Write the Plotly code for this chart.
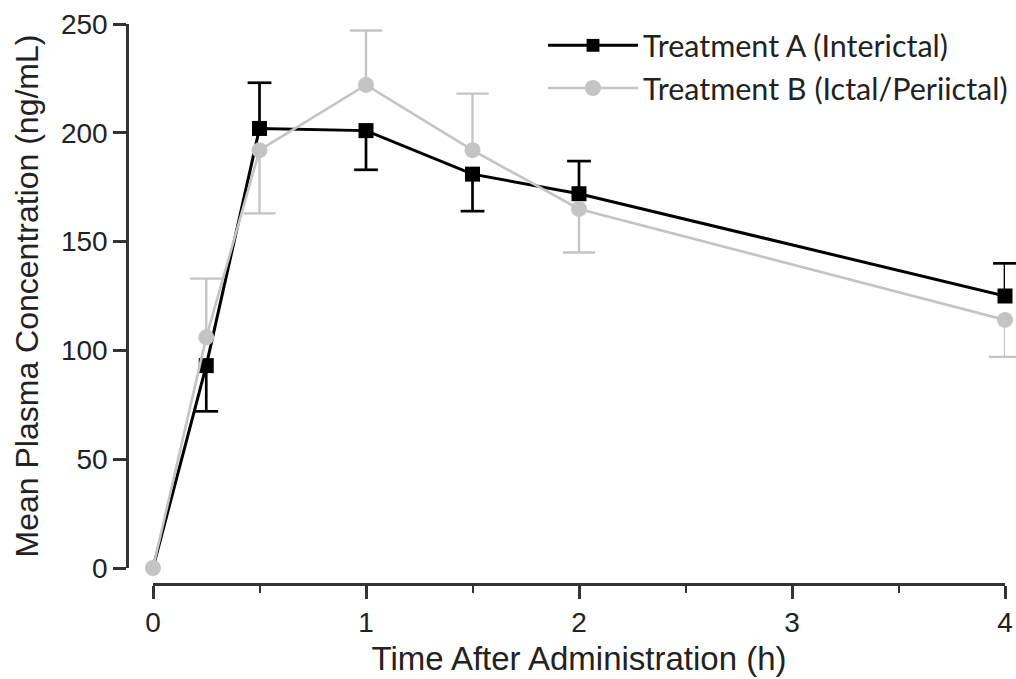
import plotly.graph_objects as go

# ---- data ----
times = [0, 0.25, 0.5, 1, 1.5, 2, 4]
a_mean = [0, 93, 202, 201, 181, 172, 125]
a_err_up = [0, 0, 21, 0, 0, 15, 15]
a_err_down = [0, 21, 0, 18, 17, 0, 0]
b_mean = [0, 106, 192, 222, 192, 165, 114]
b_err_up = [0, 27, 0, 25, 26, 0, 0]
b_err_down = [0, 0, 29, 0, 0, 20, 17]
name_a = "Treatment A (Interictal)"
name_b = "Treatment B (Ictal/Periictal)"
x_ticks = [0, 1, 2, 3, 4]
y_ticks = [0, 50, 100, 150, 200, 250]

COL_A = "#000000"
COL_B = "#c4c4c4"

W, H = 1016, 679
fig = go.Figure()


def cap_points(mean, up, down):
    xs, ys = [], []
    for t, m, u, d in zip(times, mean, up, down):
        if u > 0:
            xs.append(t); ys.append(m + u)
        if d > 0:
            xs.append(t); ys.append(m - d)
    return xs, ys


def add_series(name, mean, up, down, color, symbol, msize, lw, capw, hide_first):
    sizes = [0 if (hide_first and t == 0) else msize for t in times]
    # error bar stems (no caps) underneath
    fig.add_trace(go.Scatter(
        x=times, y=mean, mode="markers", showlegend=False, hoverinfo="skip",
        marker=dict(size=1, color="rgba(0,0,0,0)"),
        error_y=dict(type="data", symmetric=False, array=up, arrayminus=down,
                     color=color, thickness=lw * 0.9, width=0),
        cliponaxis=False,
    ))
    cx, cy = cap_points(mean, up, down)
    fig.add_trace(go.Scatter(
        x=cx, y=cy, mode="markers", showlegend=False, hoverinfo="skip",
        marker=dict(symbol="line-ew", size=capw,
                    line=dict(color=color, width=lw * 0.9)),
        cliponaxis=False,
    ))
    fig.add_trace(go.Scatter(
        x=times, y=mean, mode="lines+markers", name=name,
        line=dict(color=color, width=lw),
        marker=dict(symbol=symbol, size=sizes, color=color, opacity=1,
                    line=dict(width=0)),
        cliponaxis=False,
    ))


add_series(name_a, a_mean, a_err_up, a_err_down, COL_A, "square", 15, 3, 17, True)
add_series(name_b, b_mean, b_err_up, b_err_down, COL_B, "circle", 16, 2.6, 23, False)

tick_font = dict(family="Liberation Sans, Arial, sans-serif", size=28, color="#222222")
xtitle_font = dict(family="Liberation Sans, Arial, sans-serif", size=33, color="#222222")
ytitle_font = dict(family="Liberation Sans, Arial, sans-serif", size=32, color="#222222")

fig.update_layout(
    width=W, height=H,
    margin=dict(l=0, r=0, t=0, b=0),
    paper_bgcolor="white", plot_bgcolor="white",
    showlegend=True,
    legend=dict(
        x=543 / W, y=(H - 19) / H, xanchor="left", yanchor="top",
        font=dict(family="Lato, Open Sans, sans-serif", size=30.5, color="#222222"),
        bgcolor="rgba(0,0,0,0)", tracegroupgap=0, itemwidth=90,
    ),
    xaxis=dict(
        domain=[153 / W, 1005 / W], range=[0, 4],
        anchor="free", position=(H - 584) / H,
        tickvals=x_ticks, ticktext=[str(v) for v in x_ticks],
        showline=True, linecolor="#333333", linewidth=2.5,
        ticks="outside", ticklen=13, tickwidth=2.5, tickcolor="#333333",
        minor=dict(dtick=0.5, ticks="outside", ticklen=7, tickwidth=2, tickcolor="#333333"),
        showgrid=False, zeroline=False, tickfont=tick_font,
        title=dict(text="Time After Administration (h)", font=xtitle_font, standoff=9),
        automargin=False,
    ),
    yaxis=dict(
        domain=[(H - 568) / H, (H - 24) / H], range=[0, 250],
        anchor="free", position=127 / W,
        tickvals=y_ticks, ticktext=[str(v) for v in y_ticks],
        showline=True, linecolor="#333333", linewidth=2.5,
        ticks="outside", ticklen=13, tickwidth=2.5, tickcolor="#333333",
        showgrid=False, zeroline=False, tickfont=tick_font,
        title=dict(text="Mean Plasma Concentration (ng/mL)", font=ytitle_font, standoff=11),
        automargin=False,
    ),
)

fig.write_html("out.html")
